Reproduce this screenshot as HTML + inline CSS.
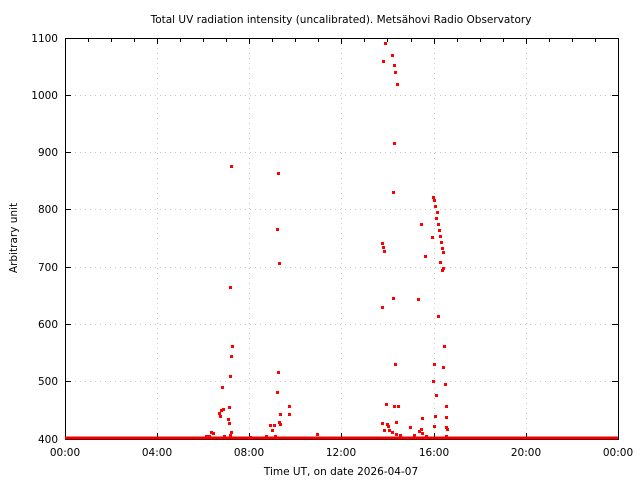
<!DOCTYPE html>
<html><head><meta charset="utf-8"><style>
html,body{margin:0;padding:0;background:#fff;}
svg{display:block;font-family:"DejaVu Sans","Liberation Sans",sans-serif;}
</style></head><body>
<svg width="640" height="480" viewBox="0 0 640 480" xmlns="http://www.w3.org/2000/svg">
<rect width="640" height="480" fill="#fff"/>
<text x="341" y="23" font-size="10.5" text-anchor="middle">Total UV radiation intensity (uncalibrated). Metsähovi Radio Observatory</text>
<g stroke="#c8c8c8" stroke-width="1" stroke-dasharray="1,4">
<line x1="65" y1="95.5" x2="618" y2="95.5"/>
<line x1="65" y1="152.5" x2="618" y2="152.5"/>
<line x1="65" y1="209.5" x2="618" y2="209.5"/>
<line x1="65" y1="267.5" x2="618" y2="267.5"/>
<line x1="65" y1="324.5" x2="618" y2="324.5"/>
<line x1="65" y1="381.5" x2="618" y2="381.5"/>
<line x1="157.5" y1="38" x2="157.5" y2="439"/>
<line x1="249.5" y1="38" x2="249.5" y2="439"/>
<line x1="341.5" y1="38" x2="341.5" y2="439"/>
<line x1="434.5" y1="38" x2="434.5" y2="439"/>
<line x1="526.5" y1="38" x2="526.5" y2="439"/>
</g>
<rect x="65.5" y="38.5" width="553" height="401" fill="none" stroke="#000" stroke-width="1"/>
<g stroke="#000" stroke-width="1">
<path d="M65 95.5h6M65 152.5h6M65 209.5h6M65 267.5h6M65 324.5h6M65 381.5h6M618 95.5h-6M618 152.5h-6M618 209.5h-6M618 267.5h-6M618 324.5h-6M618 381.5h-6"/>
<path d="M88.5 38v4M111.5 38v4M134.5 38v4M157.5 38v6M180.5 38v4M203.5 38v4M226.5 38v4M249.5 38v6M272.5 38v4M295.5 38v4M318.5 38v4M341.5 38v6M364.5 38v4M387.5 38v4M411.5 38v4M434.5 38v6M457.5 38v4M480.5 38v4M503.5 38v4M526.5 38v6M549.5 38v4M572.5 38v4M595.5 38v4"/>
<path d="M157.5 439v-6M249.5 439v-6M341.5 439v-6M434.5 439v-6M526.5 439v-6"/>
</g>
<g font-size="10.5" text-anchor="end">
<text x="58" y="42">1100</text><text x="58" y="99">1000</text><text x="58" y="156">900</text>
<text x="58" y="213">800</text><text x="58" y="271">700</text><text x="58" y="328">600</text>
<text x="58" y="385">500</text><text x="58" y="443">400</text>
</g>
<g font-size="10.5" text-anchor="middle">
<text x="65" y="456">00:00</text><text x="157" y="456">04:00</text><text x="249" y="456">08:00</text>
<text x="341" y="456">12:00</text><text x="434" y="456">16:00</text><text x="526" y="456">20:00</text>
<text x="618" y="456">00:00</text>
<text x="341" y="475">Time UT, on date 2026-04-07</text>
</g>
<text x="17" y="238" font-size="10.5" text-anchor="middle" transform="rotate(-90 17 238)">Arbitrary unit</text>
<line x1="65" y1="438" x2="618" y2="438" stroke="#e00" stroke-width="3"/>
<g fill="#f00">
<rect x="230" y="165" width="3" height="3"/><rect x="229" y="286" width="3" height="3"/><rect x="231" y="345" width="3" height="3"/><rect x="230" y="355" width="3" height="3"/><rect x="229" y="375" width="3" height="3"/><rect x="228" y="406" width="3" height="3"/><rect x="221" y="386" width="3" height="3"/><rect x="218" y="412" width="3" height="3"/><rect x="219" y="415" width="3" height="3"/><rect x="220" y="409" width="3" height="3"/><rect x="222" y="408" width="3" height="3"/><rect x="227" y="418" width="3" height="3"/><rect x="228" y="422" width="3" height="3"/><rect x="229" y="434" width="3" height="3"/><rect x="230" y="431" width="3" height="3"/><rect x="212" y="432" width="3" height="3"/><rect x="208" y="435" width="3" height="3"/><rect x="210" y="431" width="3" height="3"/><rect x="205" y="435" width="3" height="3"/><rect x="223" y="435" width="3" height="3"/>
<rect x="277" y="172" width="3" height="3"/><rect x="276" y="228" width="3" height="3"/><rect x="278" y="262" width="3" height="3"/><rect x="277" y="371" width="3" height="3"/><rect x="276" y="391" width="3" height="3"/><rect x="279" y="413" width="3" height="3"/><rect x="278" y="421" width="3" height="3"/><rect x="279" y="423" width="3" height="3"/><rect x="288" y="405" width="3" height="3"/><rect x="288" y="413" width="3" height="3"/><rect x="269" y="424" width="3" height="3"/><rect x="273" y="424" width="3" height="3"/><rect x="271" y="429" width="3" height="3"/><rect x="265" y="435" width="3" height="3"/><rect x="274" y="435" width="3" height="3"/><rect x="249" y="436" width="3" height="3"/><rect x="316" y="433" width="3" height="3"/>
<rect x="384" y="42" width="3" height="3"/><rect x="382" y="60" width="3" height="3"/><rect x="391" y="54" width="3" height="3"/><rect x="393" y="64" width="3" height="3"/><rect x="394" y="71" width="3" height="3"/><rect x="396" y="83" width="3" height="3"/><rect x="393" y="142" width="3" height="3"/><rect x="392" y="191" width="3" height="3"/><rect x="381" y="242" width="3" height="3"/><rect x="382" y="246" width="3" height="3"/><rect x="383" y="250" width="3" height="3"/><rect x="381" y="306" width="3" height="3"/><rect x="392" y="297" width="3" height="3"/><rect x="394" y="363" width="3" height="3"/><rect x="385" y="403" width="3" height="3"/><rect x="381" y="422" width="3" height="3"/><rect x="386" y="423" width="3" height="3"/><rect x="387" y="425" width="3" height="3"/><rect x="393" y="405" width="3" height="3"/><rect x="397" y="405" width="3" height="3"/><rect x="395" y="421" width="3" height="3"/><rect x="383" y="429" width="3" height="3"/><rect x="388" y="429" width="3" height="3"/><rect x="391" y="431" width="3" height="3"/><rect x="395" y="433" width="3" height="3"/><rect x="399" y="434" width="3" height="3"/><rect x="409" y="426" width="3" height="3"/><rect x="413" y="434" width="3" height="3"/>
<rect x="420" y="223" width="3" height="3"/><rect x="424" y="255" width="3" height="3"/><rect x="417" y="298" width="3" height="3"/><rect x="421" y="417" width="3" height="3"/><rect x="420" y="428" width="3" height="3"/><rect x="418" y="430" width="3" height="3"/><rect x="421" y="432" width="3" height="3"/><rect x="425" y="435" width="3" height="3"/><rect x="432" y="380" width="3" height="3"/><rect x="433" y="363" width="3" height="3"/><rect x="431" y="236" width="3" height="3"/><rect x="432" y="196" width="3" height="3"/><rect x="433" y="199" width="3" height="3"/><rect x="434" y="205" width="3" height="3"/><rect x="436" y="211" width="3" height="3"/><rect x="435" y="217" width="3" height="3"/><rect x="437" y="223" width="3" height="3"/><rect x="438" y="229" width="3" height="3"/><rect x="439" y="235" width="3" height="3"/><rect x="440" y="241" width="3" height="3"/><rect x="441" y="247" width="3" height="3"/><rect x="442" y="251" width="3" height="3"/><rect x="439" y="261" width="3" height="3"/><rect x="442" y="267" width="3" height="3"/><rect x="441" y="269" width="3" height="3"/><rect x="437" y="315" width="3" height="3"/><rect x="443" y="345" width="3" height="3"/><rect x="442" y="366" width="3" height="3"/><rect x="444" y="383" width="3" height="3"/><rect x="445" y="405" width="3" height="3"/><rect x="445" y="416" width="3" height="3"/><rect x="445" y="426" width="3" height="3"/><rect x="446" y="428" width="3" height="3"/><rect x="445" y="435" width="3" height="3"/><rect x="435" y="394" width="3" height="3"/><rect x="434" y="415" width="3" height="3"/><rect x="433" y="425" width="3" height="3"/>
</g>
</svg>
</body></html>
